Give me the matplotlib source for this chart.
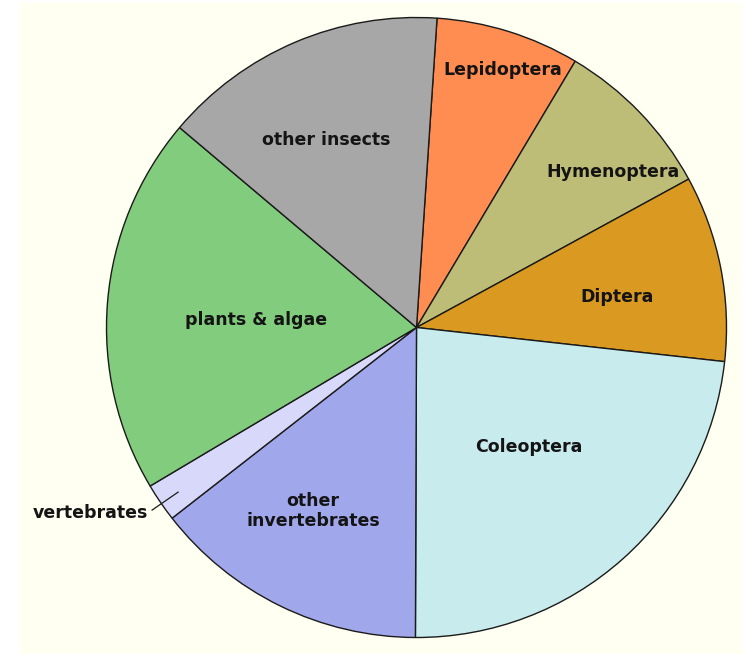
import matplotlib
matplotlib.use("Agg")
import matplotlib.pyplot as plt

# slice data (degrees, clockwise from 12 o'clock)
groups = ["Lepidoptera", "Hymenoptera", "Diptera", "Coleoptera",
          "other invertebrates", "vertebrates", "plants & algae", "other insects"]
shares = [7.5, 8.5, 9.7, 23.3, 14.4, 2.0, 19.7, 14.9]
colors = ["#FF8C50", "#BDBD77", "#DA9A22", "#C8ECEE",
          "#A0A7EB", "#D8D8FB", "#82CC7E", "#A7A7A7"]

# label text and where it sits (pie radius = 1)
label_text = ["Lepidoptera", "Hymenoptera", "Diptera", "Coleoptera",
              "other\ninvertebrates", "vertebrates", "plants & algae", "other insects"]
label_pos = [(0.279, 0.831), (0.634, 0.502), (0.647, 0.098), (0.363, -0.385),
             (-0.334, -0.592), (-1.053, -0.598), (-0.518, 0.024), (-0.292, 0.605)]

fig = plt.figure(figsize=(7.43, 6.54), dpi=100)
fig.patch.set_facecolor("white")

# cream panel behind the pie
bg = fig.add_axes([19 / 743, 0, 1 - 19 / 743, 1 - 3 / 654])
bg.set_facecolor("#FFFFF2")
bg.set_xticks([])
bg.set_yticks([])
for s in bg.spines.values():
    s.set_visible(False)

ax = fig.add_axes([0, 0, 1, 1])
ax.set_facecolor("none")
wedges, _ = ax.pie(shares, colors=colors, startangle=90 - 3.8, counterclock=False,
                   wedgeprops=dict(edgecolor="#1a1a1a", linewidth=1.0))

for txt, (x, y) in zip(label_text, label_pos):
    ax.text(x, y, txt, ha="center", va="center", fontsize=12.5, fontweight="bold",
            color="#141414", linespacing=1.15)

# leader line for vertebrates
ax.plot([-0.853, -0.769], [-0.589, -0.531], color="#1a1a1a", lw=0.9)

ax.set_xlim(-416.5 / 310, (743 - 416.5) / 310)
ax.set_ylim(-(654 - 327.5) / 310, 327.5 / 310)
ax.set_aspect("auto")
ax.axis("off")

fig.savefig("out.png", dpi=100, facecolor=fig.get_facecolor())
